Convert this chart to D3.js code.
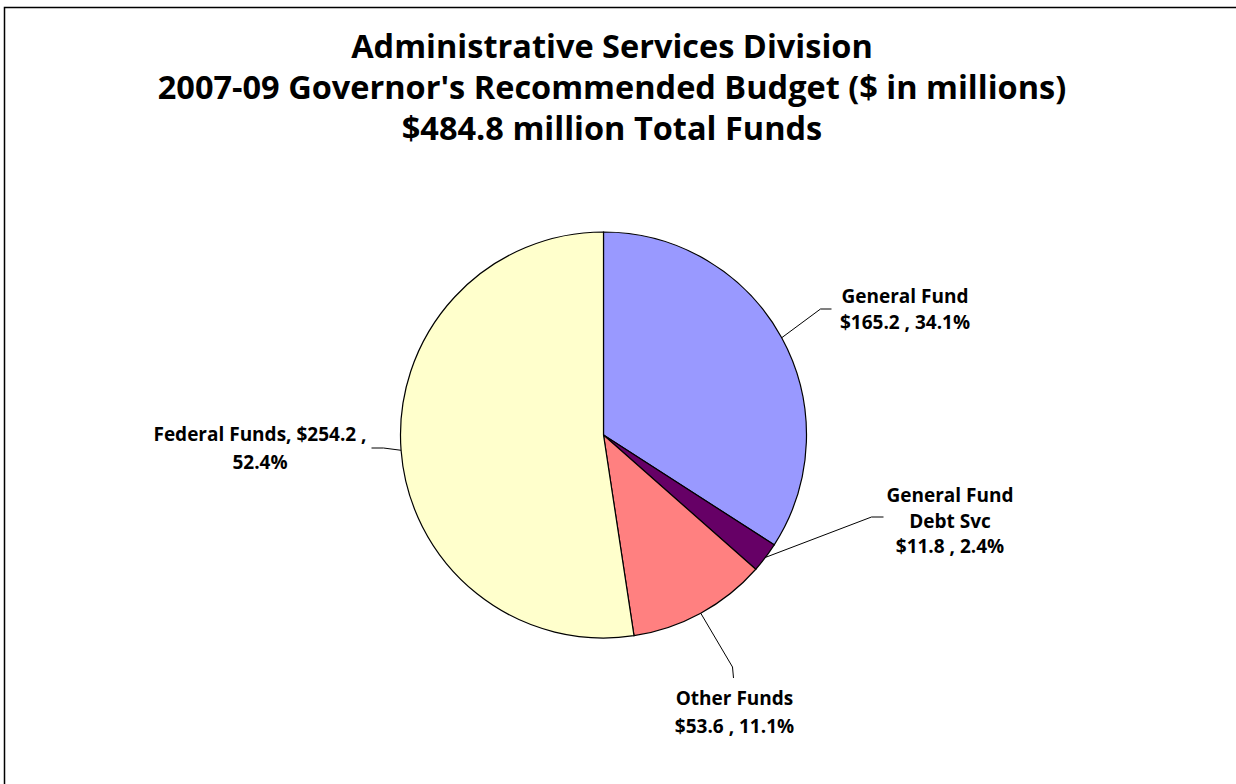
<!DOCTYPE html>
<html>
<head>
<meta charset="utf-8">
<script src="https://cdn.jsdelivr.net/npm/d3@7"></script>
<style>
  html, body { margin: 0; padding: 0; background: #fff; }
  svg { display: block; }
  text { font-family: "Open Sans", "Noto Sans", sans-serif; font-weight: bold; fill: #000; }
</style>
</head>
<body>
<svg id="chart" width="1236" height="784"></svg>
<script>
// Budget categories, in the clockwise order they appear from 12 o'clock
const categories = ["General Fund", "General Fund Debt Svc", "Other Funds", "Federal Funds"];
const amounts = [165.2, 11.8, 53.6, 254.2];          // $ millions
const percents = [34.1, 2.4, 11.1, 52.4];
const colors = ["#9999FF", "#660066", "#FF8080", "#FFFFCC"];
const labelLines = [
  ["General Fund", "$165.2 , 34.1%"],
  ["General Fund", "Debt Svc", "$11.8 , 2.4%"],
  ["Other Funds", "$53.6 , 11.1%"],
  ["Federal Funds, $254.2 ,", "52.4%"]
];
const titleLines = [
  "Administrative Services Division",
  "2007-09 Governor's Recommended Budget ($ in millions)",
  "$484.8 million Total Funds"
];

const svg = d3.select("#chart");
const W = 1236, H = 784;

// frame (left and top edges visible in the canvas)
svg.append("path")
  .attr("d", `M4.5,${H} L4.5,7.5 L${W},7.5`)
  .attr("fill", "none").attr("stroke", "#000").attr("stroke-width", 1.5);

// title
svg.append("g").selectAll("text").data(titleLines).join("text")
  .attr("x", 612).attr("y", (d, i) => 58 + i * 41)
  .attr("text-anchor", "middle")
  .style("font-size", "32.5px")
  .text(d => d);

// pie
const cx = 603.5, cy = 435, r = 203;
const data = categories.map((c, i) => ({ name: c, value: amounts[i], pct: percents[i], color: colors[i], lines: labelLines[i] }));
const pie = d3.pie().sort(null).value(d => d.pct);
const arcs = pie(data);
const arc = d3.arc().innerRadius(0).outerRadius(r);

const g = svg.append("g").attr("transform", `translate(${cx},${cy})`);
g.selectAll("path").data(arcs).join("path")
  .attr("d", arc)
  .attr("fill", d => d.data.color)
  .attr("stroke", "#000").attr("stroke-width", 1.2);

// label placement: elbow and end of each leader line, and the text block's first baseline (relative to pie centre)
const labelLayout = [
  { elbow: [217, -126], end: [228, -126], text: [301.5, -132], lh: 26 },
  { elbow: [268, 82],   end: [280, 82],   text: [346.5, 67],   lh: 25.5 },
  { elbow: [129, 232],  end: [130, 243],  text: [131, 270],    lh: 27.5 },
  { elbow: [-220, 13],  end: [-232, 13],  text: [-343.5, 6],   lh: 28 }
];

arcs.forEach((a, i) => {
  const L = labelLayout[i];
  const mid = (a.startAngle + a.endAngle) / 2;
  const p0 = [Math.sin(mid) * r, -Math.cos(mid) * r];
  g.append("polyline")
    .attr("points", [p0, L.elbow, L.end].map(p => p.join(",")).join(" "))
    .attr("fill", "none").attr("stroke", "#000").attr("stroke-width", 1);
  const t = g.append("text")
    .attr("text-anchor", "middle")
    .style("font-size", "19px");
  a.data.lines.forEach((line, j) => {
    t.append("tspan").attr("x", L.text[0]).attr("y", L.text[1] + j * L.lh).text(line);
  });
});
</script>
</body>
</html>
